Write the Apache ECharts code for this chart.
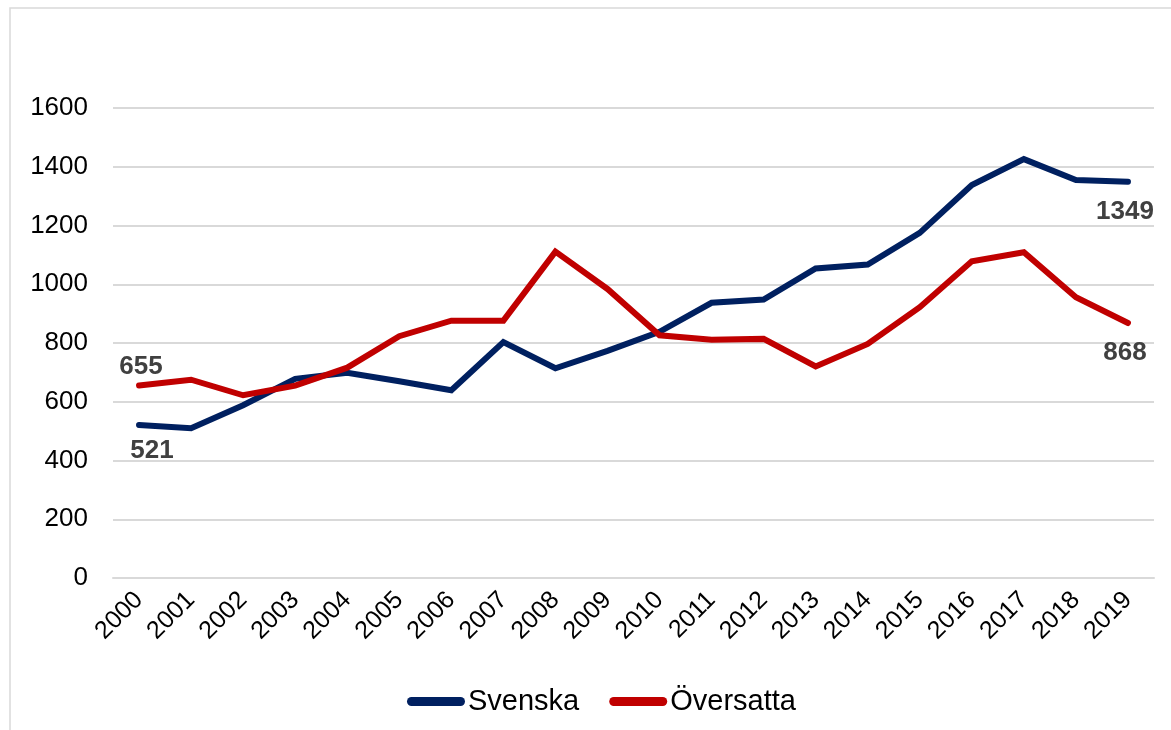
<!DOCTYPE html>
<html>
<head>
<meta charset="utf-8">
<script src="https://cdn.jsdelivr.net/npm/echarts@6/dist/echarts.min.js"></script>
<style>
  html, body { margin: 0; padding: 0; background: #fff; }
  #chart { width: 1171px; height: 730px; }
</style>
</head>
<body>
<div id="chart"></div>
<script>
// data
const years = ['2000', '2001', '2002', '2003', '2004', '2005', '2006', '2007', '2008', '2009',
  '2010', '2011', '2012', '2013', '2014', '2015', '2016', '2017', '2018', '2019'];
const svenska = [521, 510, 588, 678, 699, 670, 639, 803, 714, 773,
  838, 937, 948, 1054, 1067, 1175, 1338, 1426, 1355, 1349];
const oversatta = [655, 675, 622, 655, 716, 823, 876, 876, 1111, 984,
  826, 811, 814, 720, 797, 922, 1078, 1109, 956, 868];
const yTicks = [0, 200, 400, 600, 800, 1000, 1200, 1400, 1600];

const font = "'Liberation Sans', Arial, sans-serif";

// only first and last point carry a value label
function withLabels(arr, first, last) {
  return arr.map((v, i) => {
    const lab = i === 0 ? first : (i === arr.length - 1 ? last : null);
    if (!lab) return v;
    return {
      value: v,
      symbol: 'circle',
      symbolSize: 1,
      label: { show: true, position: lab.pos, offset: lab.off }
    };
  });
}

const labelStyle = {
  show: false,
  fontFamily: font,
  fontSize: 26,
  fontWeight: 'bold',
  color: '#404040',
  formatter: '{c}'
};

const chart = echarts.init(document.getElementById('chart'));
const option = {
  animation: false,
  graphic: [{
    type: 'rect',
    shape: { x: 10, y: 8, width: 1170, height: 740 },
    style: { fill: 'none', stroke: '#d9d9d9', lineWidth: 1.5 },
    silent: true
  }],
  grid: { left: 113, right: 17, top: 108, bottom: 152 },
  legend: {
    top: 682,
    left: 402,
    itemWidth: 58,
    itemHeight: 9,
    itemGap: 30,
    icon: 'path://M4.5,0 H53.5 A4.5,4.5 0 0 1 53.5,9 H4.5 A4.5,4.5 0 0 1 4.5,0 Z',
    textStyle: { fontFamily: font, fontSize: 29, color: '#000', padding: [0, 0, 0, -2] },
    data: ['Svenska', 'Översatta']
  },
  xAxis: {
    type: 'category',
    data: years,
    boundaryGap: true,
    axisLine: { show: true, lineStyle: { color: '#d9d9d9', width: 2 } },
    axisTick: { show: false },
    axisLabel: {
      rotate: 45,
      margin: 18,
      fontFamily: font,
      fontSize: 25,
      color: '#000',
      interval: 0
    }
  },
  yAxis: {
    type: 'value',
    min: yTicks[0],
    max: yTicks[yTicks.length - 1],
    interval: 200,
    axisLine: { show: false },
    axisTick: { show: false },
    splitLine: { lineStyle: { color: '#d9d9d9', width: 2 } },
    axisLabel: {
      margin: 25,
      fontFamily: font,
      fontSize: 26,
      color: '#000',
      formatter: v => String(v)
    }
  },
  series: [
    {
      name: 'Svenska',
      type: 'line',
      data: withLabels(svenska, { pos: 'bottom', off: [13, 7] }, { pos: 'bottom', off: [-3, 12] }),
      color: '#002060',
      symbol: 'none',
      lineStyle: { width: 6, color: '#002060', cap: 'round', join: 'miter' },
      label: labelStyle,
      z: 2
    },
    {
      name: 'Översatta',
      type: 'line',
      data: withLabels(oversatta, { pos: 'top', off: [2, 0] }, { pos: 'bottom', off: [-3, 11] }),
      color: '#C00000',
      symbol: 'none',
      lineStyle: { width: 6, color: '#C00000', cap: 'round', join: 'miter' },
      label: labelStyle,
      z: 3
    }
  ]
};
chart.setOption(option);
window.addEventListener('resize', () => chart.resize());
</script>
</body>
</html>
